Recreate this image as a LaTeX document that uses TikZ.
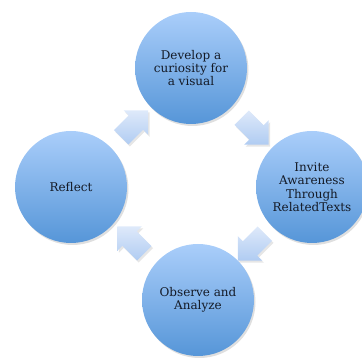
\documentclass[tikz,border=0pt]{standalone}
\usepackage{fontspec}
\setmainfont{DejaVu Serif}
\usetikzlibrary{calc,shapes.arrows,shadows}
\definecolor{balltop}{RGB}{170,206,250}
\definecolor{ballbot}{RGB}{86,150,216}
\definecolor{arrtop}{RGB}{222,233,250}
\definecolor{arrbot}{RGB}{176,204,242}
\definecolor{ink}{RGB}{20,26,38}
\tikzset{
  stage/.style={circle, minimum size=112pt, inner sep=0pt, top color=balltop, bottom color=ballbot,
    draw=none, align=center, text=ink, font=\fontsize{12}{13.4}\selectfont,
    drop shadow={shadow xshift=1.5pt, shadow yshift=-2pt, opacity=0.25}},
  turn/.style={single arrow, minimum height=38pt, single arrow head extend=7pt,
    inner xsep=0pt, inner ysep=10pt, top color=arrtop, bottom color=arrbot, draw=none,
    drop shadow={shadow xshift=1.5pt, shadow yshift=-2pt, opacity=0.2}}
}
\begin{document}
\begin{tikzpicture}[x=1pt, y=1pt]
            \useasboundingbox (0,0) rectangle (362,358);
            \node[stage] (dev) at (191,290) {Develop a\\curiosity for\\a visual};
            \node[stage] (inv) at (312,171) {Invite\\Awareness\\Through\\RelatedTexts};
            \node[stage] (obs) at (198,58) {Observe and\\Analyze};
            \node[stage] (ref) at (71,171) {Reflect};

            \node[turn, rotate=-45] (a1) at ($(dev)!0.5!(inv)$) {};
            \node[turn, rotate=-135] (a2) at ($(inv)!0.5!(obs)$) {};
            \node[turn, rotate=135] (a3) at ($(obs)!0.5!(ref)$) {};
            \node[turn, rotate=45] (a4) at ($(ref)!0.5!(dev)$) {};
\end{tikzpicture}
\end{document}
